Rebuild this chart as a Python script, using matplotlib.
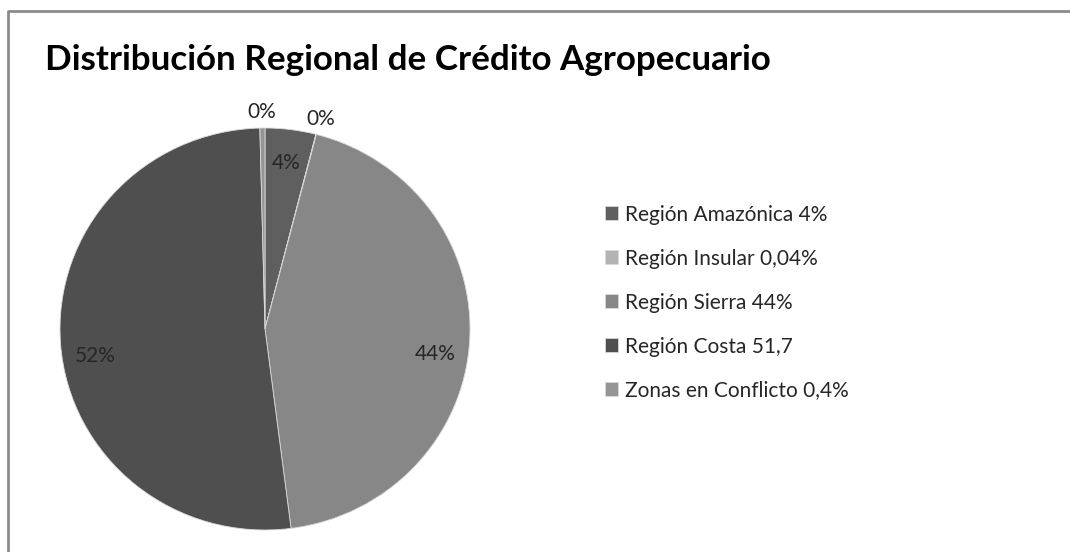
import numpy as np
import matplotlib
matplotlib.use('Agg')
from matplotlib import pyplot as plt
from matplotlib.lines import Line2D

title = 'Distribución Regional de Crédito Agropecuario'
regions = ['Región Amazónica 4%', 'Región Insular 0,04%', 'Región Sierra 44%',
           'Región Costa 51,7', 'Zonas en Conflicto 0,4%']
values = [4, 0.04, 44, 51.7, 0.4]
pct_labels = ['4%', '0%', '44%', '52%', '0%']
colors = ['#5f5f5f', '#b3b3b3', '#878787', '#4f4f4f', '#959595']

plt.rcParams['font.family'] = ['Lato', 'DejaVu Sans']

W, H = 1070, 552
fig = plt.figure(figsize=(W / 100, H / 100), dpi=100)

# frame (top and left edges visible)
fig.add_artist(Line2D([8 / W, 8 / W, 1], [0, 1 - 11 / H, 1 - 11 / H],
                      transform=fig.transFigure, color='#8c8c8c', lw=2))

cx, cy, rx, ry = 265, 329, 205, 201
ax = fig.add_axes([(cx - rx) / W, (H - cy - ry) / H, 2 * rx / W, 2 * ry / H])
wedges, _ = ax.pie(values, colors=colors, startangle=90, counterclock=False,
                   wedgeprops=dict(linewidth=0.6, edgecolor='#d9d9d9'))
ax.set_xlim(-1, 1)
ax.set_ylim(-1, 1)
ax.set_aspect('auto')

for w, lab, v in zip(wedges, pct_labels, values):
    ang = np.deg2rad((w.theta1 + w.theta2) / 2)
    d = 0.83 if v > 2 else 1.08
    x, y = d * np.cos(ang), d * np.sin(ang)
    if v > 40:
        y -= 0.07
    ax.text(x, y, lab, ha='center', va='center', fontsize=15, color='#262626')

fig.text(45 / W, 1 - 60 / H, title, fontsize=25.2, fontweight='bold',
         va='center', ha='left', color='black')

fig.legend(wedges, regions, loc='upper left', bbox_to_anchor=(586 / W, 1 - 186 / H),
           frameon=False, fontsize=15, handlelength=0.65, handleheight=0.65,
           handletextpad=0.3, labelspacing=1.15, labelcolor='#262626')

fig.savefig('out.png', dpi=100)
